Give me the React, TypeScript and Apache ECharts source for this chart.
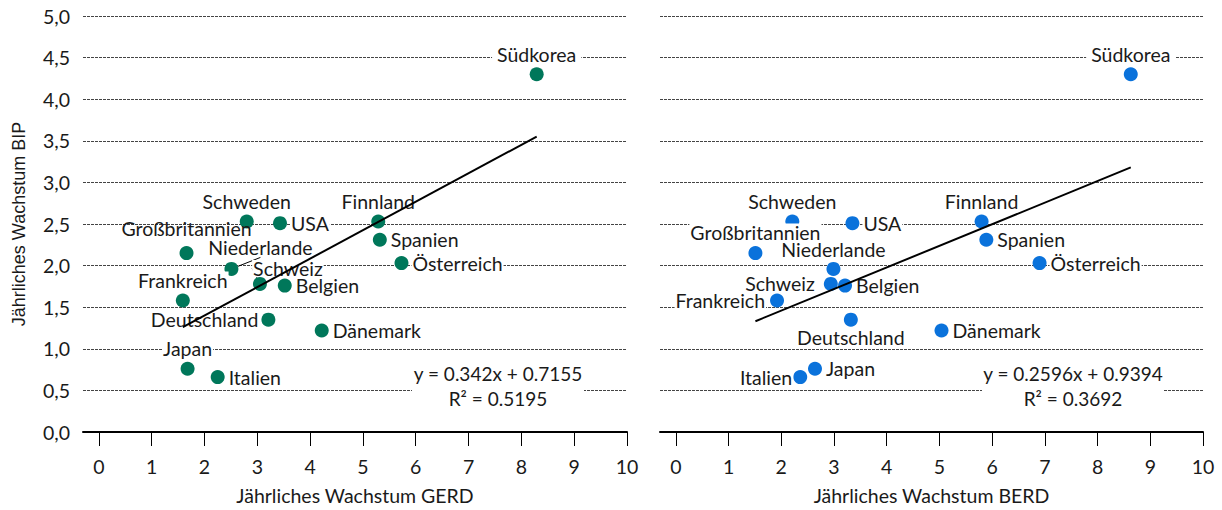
import React, { useEffect, useRef } from "react";
import * as echarts from "echarts";

const countries = ["Südkorea", "Schweden", "USA", "Finnland", "Spanien", "Österreich", "Großbritannien", "Niederlande", "Schweiz", "Belgien", "Frankreich", "Deutschland", "Dänemark", "Japan", "Italien"];
const bipGrowth = [4.30, 2.53, 2.51, 2.53, 2.31, 2.03, 2.15, 1.96, 1.78, 1.76, 1.58, 1.35, 1.22, 0.76, 0.66];
const gerdGrowth = [8.29, 2.80, 3.43, 5.29, 5.32, 5.73, 1.66, 2.51, 3.05, 3.52, 1.59, 3.21, 4.22, 1.68, 2.25];
const berdGrowth = [8.63, 2.21, 3.35, 5.80, 5.89, 6.90, 1.51, 2.99, 2.94, 3.21, 1.92, 3.32, 5.04, 2.64, 2.36];
const xTicks = [0, 1, 2, 3, 4, 5, 6, 7, 8, 9, 10];
const trendGERD = { slope: 0.342, intercept: 0.7155, r2: "0.5195", eq: "y = 0.342x + 0.7155" };
const trendBERD = { slope: 0.2596, intercept: 0.9394, r2: "0.3692", eq: "y = 0.2596x + 0.9394" };

// label placement (style only): [position, distance, horizontal padding, dy offset, white background]
type LP = [string, number, number, number, boolean];
const gerdLabelPos: LP[] = [["top", 4.5, 5, 0, true], ["top", 4.5, 1, 0, true], ["right", 3, 1, 0, true], ["top", 4.5, 1, 0, true], ["right", 3, 1, 0, true], ["right", 3, 1, 0, true], ["top", 9.3, 1, 0, false], ["top", 6, 1, 0, true], ["top", 4.5, 1, 0, true], ["right", 3, 1, 5, true], ["top", 5, 1, 0, true], ["left", 2, 1, 0, true], ["right", 3, 1, 0, true], ["top", 5, 1, 0, true], ["right", 3, 1, 0, true]];
const berdLabelPos: LP[] = [["top", 4.5, 5, 0, true], ["top", 4.5, 1, 0, true], ["right", 3, 1, 0, true], ["top", 4.5, 1, 0, true], ["right", 3, 1, 0, true], ["right", 3, 1, 0, true], ["top", 5.5, 1, 0, true], ["top", 4, 1, 0, true], ["left", 8, 1, 0, true], ["right", 3, 1, 0, true], ["left", 4, 1, 0, true], ["bottom", 2.5, 1, 0, true], ["right", 3, 1, 0, true], ["right", 3, 1, 0, true], ["left", 0, 1, 0, true]];
const gerdLeader: Record<number, [number, number]> = { 7: [29, 0], 8: [28, 4.6] };

const GREEN = "#00775A";
const BLUE = "#0A72DB";
const FONT = "Lato";
const FS = 19.5;
const TXT = "#1a1a1a";

function trendData(xs: number[], t: { slope: number; intercept: number }) {
  const lo = Math.min(...xs);
  const hi = Math.max(...xs);
  return [[lo, t.slope * lo + t.intercept], [hi, t.slope * hi + t.intercept]];
}

function scatterData(xs: number[], pos: LP[]) {
  return xs.map((x, i) => ({
    value: [x, bipGrowth[i]],
    name: countries[i],
    label: {
      position: pos[i][0],
      distance: pos[i][1],
      padding: [0, pos[i][2]],
      offset: [0, pos[i][3]],
      backgroundColor: pos[i][4] ? "#fff" : "transparent",
    },
  }));
}

export default function App() {
  const ref = useRef<HTMLDivElement>(null);
  useEffect(() => {
    const chart = echarts.init(ref.current!, null, { renderer: "svg" });
    const grids = [
      { left: 83, right: 595, top: 16, bottom: 78 },
      { left: 660, right: 19, top: 16, bottom: 78 },
    ];
    const xAxisBase = (name: string, idx: number) => ({
      type: "value",
      gridIndex: idx,
      min: -0.3,
      max: 10,
      name,
      nameLocation: "middle",
      nameGap: 53,
      nameTextStyle: { fontFamily: FONT, fontSize: FS, color: TXT },
      axisLine: { show: true, onZero: false, lineStyle: { color: "#000", width: 2 } },
      axisTick: { show: true, customValues: xTicks, length: 14, lineStyle: { color: "#000", width: 1 } },
      axisLabel: { customValues: xTicks, margin: 24, fontFamily: FONT, fontSize: FS, color: TXT },
      splitLine: { show: false },
    });
    const yAxisBase = (idx: number, showLabels: boolean) => ({
      type: "value",
      gridIndex: idx,
      min: 0,
      max: 5,
      interval: 0.5,
      name: showLabels ? "Jährliches Wachstum BIP" : "",
      nameLocation: "middle",
      nameGap: 55,
      nameTextStyle: { fontFamily: "Liberation Sans", fontSize: 18, color: TXT },
      axisLine: { show: false },
      axisTick: { show: false },
      axisLabel: {
        show: showLabels,
        margin: 13,
        fontFamily: FONT,
        fontSize: FS,
        color: TXT,
        formatter: (v: number) => v.toFixed(1).replace(".", ","),
      },
      splitLine: { show: true, lineStyle: { color: "#444", width: 1, type: [3, 1] } },
    });
    const labelCommon = {
      show: true,
      formatter: "{b}",
      fontFamily: FONT,
      fontSize: FS,
      color: TXT,
      backgroundColor: "#fff",
      padding: [0, 1],
      lineHeight: 17,
    };
    const eqBlock = (cx: number, w: number, t: { eq: string; r2: string }) => ({
      type: "group",
      z: 10,
      children: [
        { type: "rect", z: 10, shape: { x: cx - w / 2, y: 360, width: w, height: 48 }, style: { fill: "#fff" } },
        { type: "text", z: 11, x: cx, y: 373, style: { text: t.eq, font: `19px ${FONT}`, fill: TXT, align: "center", verticalAlign: "middle" } },
        { type: "text", z: 11, x: cx, y: 398, style: { text: "R² = " + t.r2, font: `19px ${FONT}`, fill: TXT, align: "center", verticalAlign: "middle" } },
      ],
    });
    chart.setOption({
      animation: false,
      grid: grids,
      xAxis: [xAxisBase("Jährliches Wachstum GERD", 0), xAxisBase("Jährliches Wachstum BERD", 1)],
      yAxis: [yAxisBase(0, true), yAxisBase(1, false)],
      series: [
        {
          type: "scatter",
          xAxisIndex: 0,
          yAxisIndex: 0,
          symbolSize: 14,
          z: 2,
          itemStyle: { color: GREEN, opacity: 1 },
          label: labelCommon,
          labelLine: { show: true, lineStyle: { color: "#000", width: 1 } },
          labelLayout: (p: any) => {
            const o = gerdLeader[p.dataIndex];
            return o ? { dx: o[0], dy: o[1] } : {};
          },
          data: scatterData(gerdGrowth, gerdLabelPos).map((d, i) =>
            gerdLeader[i] ? d : { ...d, labelLine: { show: false } }
          ),
        },
        {
          type: "line",
          xAxisIndex: 0,
          yAxisIndex: 0,
          z: 5,
          symbol: "none",
          silent: true,
          lineStyle: { color: "#000", width: 2 },
          data: trendData(gerdGrowth, trendGERD),
        },
        {
          type: "scatter",
          xAxisIndex: 1,
          yAxisIndex: 1,
          symbolSize: 14,
          z: 2,
          itemStyle: { color: BLUE, opacity: 1 },
          label: labelCommon,
          data: scatterData(berdGrowth, berdLabelPos),
        },
        {
          type: "line",
          xAxisIndex: 1,
          yAxisIndex: 1,
          z: 5,
          symbol: "none",
          silent: true,
          lineStyle: { color: "#000", width: 2 },
          data: trendData(berdGrowth, trendBERD),
        },
      ],
      graphic: [eqBlock(498, 172, trendGERD), eqBlock(1073, 182, trendBERD)],
    });
    return () => chart.dispose();
  }, []);
  return <div ref={ref} style={{ position: "fixed", left: 0, top: 0, width: 1222, height: 510, background: "#fff" }} />;
}
